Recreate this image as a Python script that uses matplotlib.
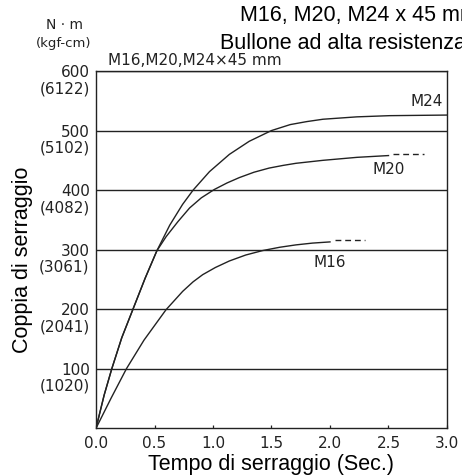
import matplotlib
matplotlib.use('Agg')
import matplotlib.pyplot as plt

# Curve readings (time in s, torque in N·m)
t_m24 = [0.0, 0.07, 0.135, 0.22, 0.316, 0.42, 0.52, 0.63, 0.74, 0.83, 0.97, 1.14, 1.31, 1.50,
         1.66, 1.80, 1.94, 2.23, 2.51, 3.0]
v_m24 = [0, 56, 100, 152, 200, 252, 298, 341, 376, 400, 431, 460, 482, 500,
         510, 515, 519, 523, 525, 526]

t_m20 = [0.0, 0.07, 0.135, 0.22, 0.316, 0.42, 0.52, 0.60, 0.70, 0.80, 0.90, 1.011, 1.12, 1.225,
         1.35, 1.48, 1.60, 1.709, 1.94, 2.23, 2.50]
v_m20 = [0, 56, 100, 152, 200, 252, 298, 322, 347, 370, 387, 401, 412, 421,
         430, 437, 441.5, 445, 450, 455, 458]
t_m20_ext = [2.54, 2.80]
v_m20_ext = [460, 460]

t_m16 = [0.0, 0.13, 0.26, 0.41, 0.598, 0.741, 0.83, 0.912, 1.02, 1.14, 1.28, 1.425, 1.57, 1.709, 1.85, 2.0]
v_m16 = [0, 51, 100, 148, 199, 230, 246, 258, 270, 281, 291, 298.5, 304, 308, 311, 313]
t_m16_ext = [2.04, 2.30]
v_m16_ext = [316, 316]

y_ticks = [100, 200, 300, 400, 500, 600]
y_kgf = ['(1020)', '(2041)', '(3061)', '(4082)', '(5102)', '(6122)']
x_ticks = [0.0, 0.5, 1.0, 1.5, 2.0, 2.5, 3.0]

# label positions (t, torque)
curve_labels = [('M24', 2.966, 548, 'right'), ('M20', 2.505, 435, 'center'), ('M16', 2.0, 279, 'center')]

fig = plt.figure(figsize=(4.62, 4.76), dpi=100)
ax = fig.add_axes([96/462, 1 - 428.3/476, (447 - 96)/462, (428.3 - 71)/476])

col = '#222222'
ax.plot(t_m24, v_m24, color=col, lw=1.0)
ax.plot(t_m20, v_m20, color=col, lw=1.0)
ax.plot(t_m16, v_m16, color=col, lw=1.0)
ax.plot(t_m20_ext, v_m20_ext, color=col, lw=1.0, linestyle=(0, (4.2, 2.8)))
ax.plot(t_m16_ext, v_m16_ext, color=col, lw=1.0, linestyle=(0, (4.2, 2.8)))

for name, tx, ty, ha in curve_labels:
    ax.text(tx, ty, name, ha=ha, va='center', fontsize=11, color=col, family='DejaVu Sans')

ax.set_xlim(0, 3.0)
ax.set_ylim(0, 600)
ax.set_yticks(y_ticks)
ax.set_yticklabels([str(v) for v in y_ticks])
ax.set_xticks(x_ticks)
ax.set_xticklabels(['%.1f' % v for v in x_ticks])
ax.tick_params(axis='y', length=0, pad=4.5, labelsize=11, colors=col)
ax.tick_params(axis='x', direction='in', length=2.2, width=0.9, pad=5.5, labelsize=11, colors=col)
ax.grid(axis='y', color=col, lw=1.0)
ax.set_axisbelow(True)
for s in ax.spines.values():
    s.set_color(col)
    s.set_linewidth(1.0)

for v, k in zip(y_ticks, y_kgf):
    ax.annotate(k, xy=(0, v), xycoords=('axes fraction', 'data'), xytext=(-4.5, -12.6),
                textcoords='offset points', ha='right', va='center', fontsize=11, color=col)

ax.set_xlabel('Tempo di serraggio (Sec.)', fontsize=15.5, family='Liberation Sans', labelpad=2)
fig.text(23/462, 1 - 260/476, 'Coppia di serraggio', rotation=90, ha='center', va='center',
         fontsize=15.5, family='Liberation Sans')

fig.text(240/462, 1 - 21/476, 'M16, M20, M24 x 45 mm', fontsize=15.5, family='Liberation Sans', va='baseline')
fig.text(220/462, 1 - 49/476, 'Bullone ad alta resistenza', fontsize=15.5, family='Liberation Sans', va='baseline')
fig.text(64/462, 1 - 29.3/476, 'N · m', fontsize=10, ha='center', va='baseline', color=col)
fig.text(64/462, 1 - 47/476, '(kgf-cm)', fontsize=9.5, ha='center', va='baseline', color=col)
fig.text(108/462, 1 - 65/476, 'M16,M20,M24×45 mm', fontsize=11, va='baseline', color=col)

fig.savefig('out.png', dpi=100)
